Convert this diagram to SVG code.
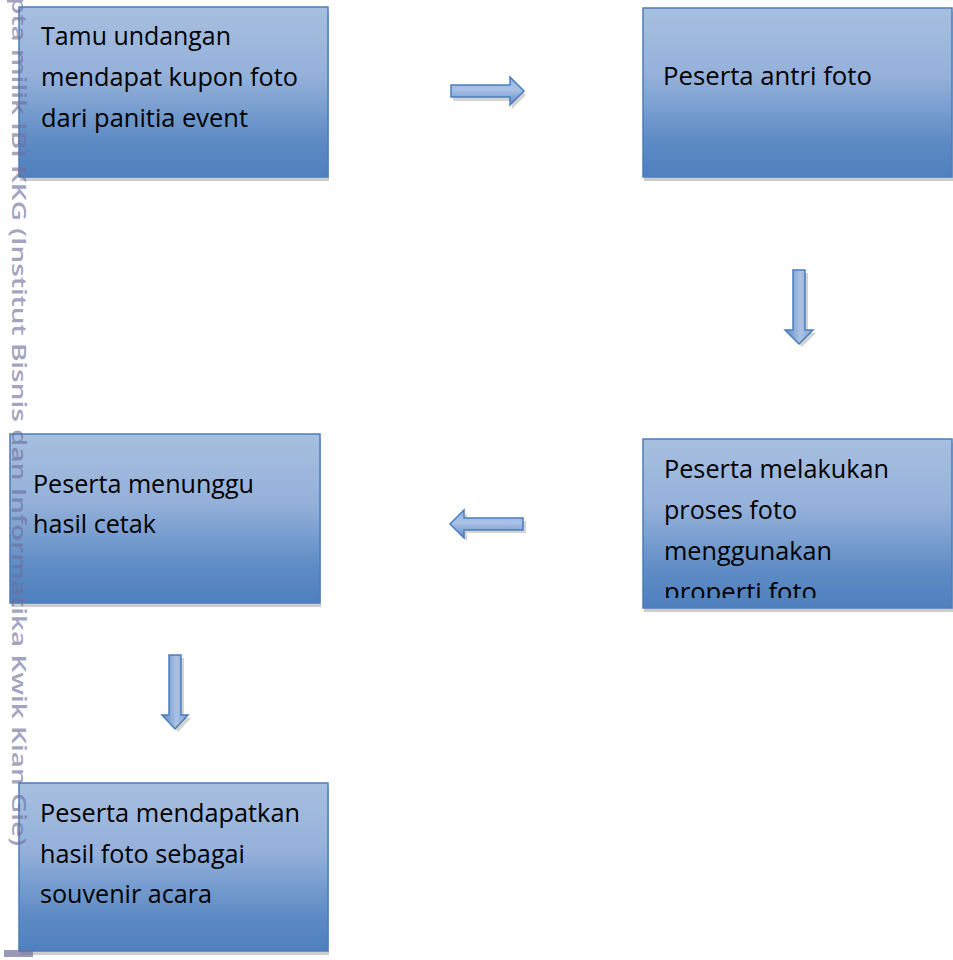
<svg xmlns="http://www.w3.org/2000/svg" width="953" height="960" viewBox="0 0 953 960">
<defs>
<linearGradient id="boxg" x1="0" y1="0" x2="0" y2="1">
<stop offset="0" stop-color="#a7bfdf"/>
<stop offset="0.4" stop-color="#95b1da"/>
<stop offset="0.8" stop-color="#5c8ac4"/>
<stop offset="1" stop-color="#4f80bd"/>
</linearGradient>
<linearGradient id="arrh" x1="0" y1="0" x2="0" y2="1">
<stop offset="0" stop-color="#94b2dd"/>
<stop offset="0.45" stop-color="#abc2e5"/>
<stop offset="1" stop-color="#5e8ac6"/>
</linearGradient>
<linearGradient id="arrv" x1="0" y1="0" x2="1" y2="0">
<stop offset="0" stop-color="#5e8ac6"/>
<stop offset="0.55" stop-color="#abc2e5"/>
<stop offset="1" stop-color="#7fa2d4"/>
</linearGradient>
<clipPath id="clip4"><rect x="643" y="439" width="309" height="159"/></clipPath>
</defs>
<style>
.shadow{fill:#cccccc}
.box{fill:url(#boxg);stroke:#4a7ebb;stroke-width:1.5}
.t{font-family:"Open Sans","Liberation Sans",sans-serif;font-size:25px;fill:#000}
.ash{fill:#d4d4d4}
.ah{fill:url(#arrh);stroke:#4a7ebb;stroke-width:1.5;stroke-linejoin:miter}
.av{fill:url(#arrv);stroke:#4a7ebb;stroke-width:1.5;stroke-linejoin:miter}
.wm{font-family:"Open Sans","DejaVu Sans",sans-serif;font-weight:600;font-size:20px;fill:#6e6e9c;fill-opacity:0.65}
</style>
<rect width="953" height="960" fill="#fff"/>

<g id="node1">
<rect class="shadow" x="20" y="11" width="309" height="170"/>
<rect class="box" x="19" y="7" width="309" height="170"/>
<text class="t" x="41" y="45" textLength="190" lengthAdjust="spacingAndGlyphs">Tamu undangan</text>
<text class="t" x="41" y="86" textLength="257" lengthAdjust="spacingAndGlyphs">mendapat kupon foto</text>
<text class="t" x="41" y="127" textLength="207" lengthAdjust="spacingAndGlyphs">dari panitia event</text>
</g>

<g id="node2">
<rect class="shadow" x="644" y="12" width="309" height="169"/>
<rect class="box" x="643" y="8" width="309" height="169"/>
<text class="t" x="663" y="85" textLength="209" lengthAdjust="spacingAndGlyphs">Peserta antri foto</text>
</g>

<g id="node3">
<rect class="shadow" x="11" y="438" width="310" height="169"/>
<rect class="box" x="10" y="434" width="310" height="169"/>
<text class="t" x="33" y="493" textLength="221" lengthAdjust="spacingAndGlyphs">Peserta menunggu</text>
<text class="t" x="33" y="533" textLength="123" lengthAdjust="spacingAndGlyphs">hasil cetak</text>
</g>

<g id="node4">
<rect class="shadow" x="644" y="443" width="309" height="169"/>
<rect class="box" x="643" y="439" width="309" height="169"/>
<g clip-path="url(#clip4)">
<text class="t" x="664" y="478" textLength="225" lengthAdjust="spacingAndGlyphs">Peserta melakukan</text>
<text class="t" x="664" y="519" textLength="133" lengthAdjust="spacingAndGlyphs">proses foto</text>
<text class="t" x="664" y="560" textLength="168" lengthAdjust="spacingAndGlyphs">menggunakan</text>
<text class="t" x="664" y="601" textLength="153" lengthAdjust="spacingAndGlyphs">properti foto</text>
</g>
</g>

<g id="node5">
<rect class="shadow" x="20" y="787" width="309" height="168"/>
<rect class="box" x="19" y="783" width="309" height="168"/>
<text class="t" x="40" y="822" textLength="260" lengthAdjust="spacingAndGlyphs">Peserta mendapatkan</text>
<text class="t" x="40" y="863" textLength="205" lengthAdjust="spacingAndGlyphs">hasil foto sebagai</text>
<text class="t" x="40" y="903" textLength="172" lengthAdjust="spacingAndGlyphs">souvenir acara</text>
</g>

<g id="connectors">
<polygon class="ash" points="453,89 512,89 512,81 526,95 512,109 512,101 453,101"/>
<polygon class="ah" points="451,85 510,85 510,77 524,91 510,105 510,97 451,97"/>
<polygon class="ash" points="796,273 808,273 808,333 816,333 802,347 788,333 796,333"/>
<polygon class="av" points="793,270 805,270 805,330 813,330 799,344 785,330 793,330"/>
<polygon class="ash" points="526,521 467,521 467,513 453,527 467,541 467,533 526,533"/>
<polygon class="ah" points="523,518 464,518 464,510 450,524 464,538 464,530 523,530"/>
<polygon class="ash" points="172,658 184,658 184,718 191,718 178,732 165,718 172,718"/>
<polygon class="av" points="169,655 181,655 181,715 188,715 175,729 162,715 169,715"/>
</g>

<g id="watermark">
<text class="wm" transform="translate(12,-3) rotate(90)" textLength="849" lengthAdjust="spacingAndGlyphs">pta milik IBI KKG (Institut Bisnis dan Informatika Kwik Kian Gie)</text>
<rect x="4" y="950" width="29" height="7" fill="#6e6e9c" fill-opacity="0.7"/>
</g>
</svg>
